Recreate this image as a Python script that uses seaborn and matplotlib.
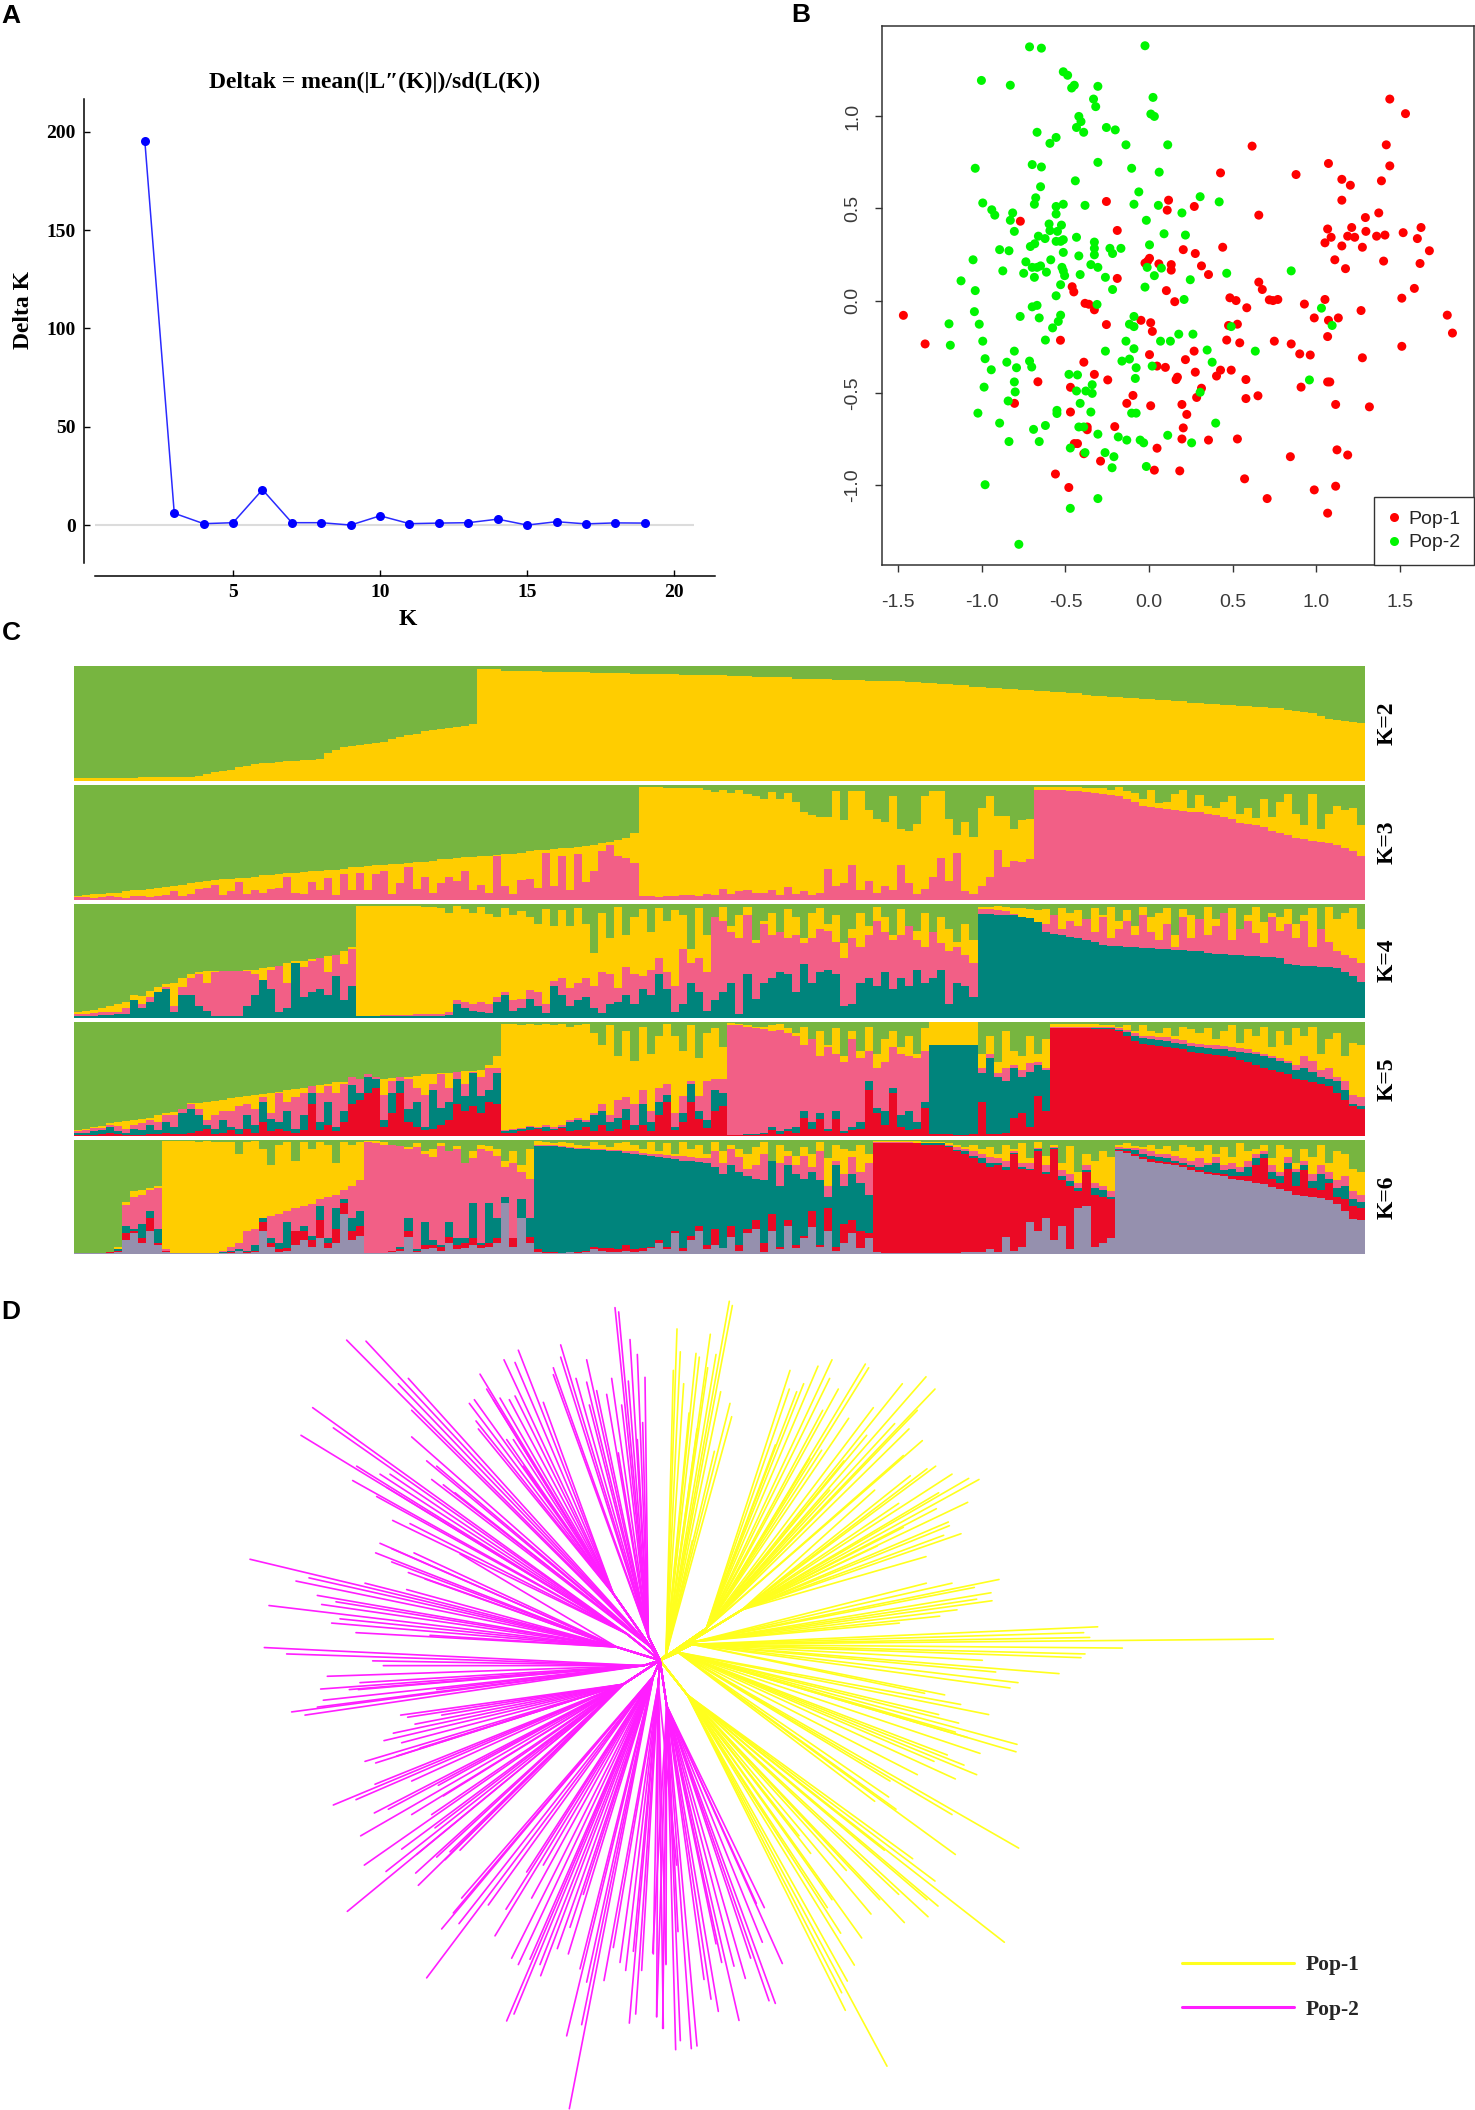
"""Population structure figure: Delta K, PCoA scatter, STRUCTURE bars, unrooted tree."""
import matplotlib
import numpy as np
import pandas as pd
import seaborn as sns
from matplotlib import pyplot as plt

matplotlib.use("Agg")

# panel A
k_values = list(range(2, 20))
delta_k = [195, 6, 0.7, 1.2, 18, 1.2, 1.2, 0, 4.7, 0.7, 1, 1.2, 3, 0, 1.7, 0.6, 1.1, 1]

# panel B
pop1_x = [-1.47, -1.34, -0.77, -0.255, -0.19, -0.19, -0.46, -0.45, -0.383, -0.36, -0.327, -0.255, -0.53, -0.39, -0.327,
          -0.247, -0.665, -0.47, -0.805, -0.096, -0.133, -0.47, -0.37, -0.37, -0.205, -0.447, -0.428, -0.39, -0.29,
          -0.56, -0.48, -0.048, 0.01, 0.02, 0.003, 0.048, 0.098, 0.162, 0.17, 0.218, 0.27, 0.277, 0.314, 0.285, 0.01,
          0.197, 0.226, 0.205, 0.197, 0.356, 0.048, 0.032, 0.184, 0.117, 0.109, 0.271, 0.428, 0.205, 0.277, 0.314,
          0.356, 0.441, -0.024, 0.003, -0.008, 0.059, 0.133, 0.133, 0.104, 0.154, 0.617, 0.657, 0.657, 0.678, 0.484,
          0.521, 0.585, 0.72, 0.742, 0.771, 0.93, 1.053, 0.989, 1.074, 1.133, 1.069, 1.269, 0.476, 0.529, 0.465,
          0.543, 0.75, 0.851, 0.902, 0.965, 1.277, 1.513, 0.492, 0.428, 0.404, 0.58, 0.652, 0.58, 0.91, 1.069, 1.082,
          1.117, 1.319, 0.529, 0.846, 1.125, 1.189, 0.572, 0.707, 0.989, 1.117, 1.069, 0.88, 1.074, 1.154, 1.205,
          1.154, 1.295, 1.375, 1.391, 1.441, 1.42, 1.441, 1.535, 1.069, 1.053, 1.09, 1.154, 1.189, 1.213, 1.231,
          1.298, 1.277, 1.362, 1.412, 1.521, 1.628, 1.606, 1.678, 1.622, 1.404, 1.112, 1.176, 1.588, 1.513, 1.785,
          1.816]
pop1_y = [-0.08, -0.235, 0.43, 0.537, 0.38, 0.12, 0.075, 0.047, -0.015, -0.02, -0.05, -0.13, -0.215, -0.334, -0.4,
          -0.43, -0.44, -0.47, -0.557, -0.514, -0.557, -0.604, -0.685, -0.7, -0.683, -0.775, -0.775, -0.83, -0.87,
          -0.94, -1.013, -0.107, -0.12, -0.167, -0.293, -0.355, -0.362, -0.428, -0.415, -0.32, -0.274, -0.388, -0.475,
          -0.525, -0.57, -0.563, -0.617, -0.69, -0.75, -0.756, -0.8, -0.919, -0.923, 0.544, 0.49, 0.51, 0.692, 0.276,
          0.255, 0.188, 0.141, 0.289, 0.203, 0.229, 0.214, 0.199, 0.195, 0.165, 0.054, -0.006, 0.837, 0.463, 0.1, 0.06,
          0.015, 0, -0.039, 0.004, 0, 0.006, -0.019, 0.006, -0.094, -0.107, -0.094, -0.195, -0.054, -0.135, -0.128,
          -0.214, -0.229, -0.22, -0.235, -0.289, -0.295, -0.31, -0.248, -0.377, -0.377, -0.409, -0.428, -0.516, -0.531,
          -0.469, -0.441, -0.441, -0.563, -0.576, -0.75, -0.846, -0.809, -0.837, -0.966, -1.073, -1.026, -1.006, -1.152,
          0.683, 0.743, 0.657, 0.625, 0.544, 0.45, 0.475, 0.649, 0.73, 0.844, 1.092, 1.013, 0.388, 0.313, 0.343, 0.296,
          0.349, 0.396, 0.343, 0.375, 0.289, 0.349, 0.355, 0.368, 0.396, 0.336, 0.27, 0.201, 0.214, 0.221, 0.173, 0.066,
          0.013, -0.079, -0.176]
pop2_x = [-0.715, -0.644, -0.024, -1.003, -0.83, -0.513, -0.487, -0.447, -0.463, -0.306, -0.332, -0.319, 0.024, 0.011,
          0.032, -0.42, -0.407, -0.434, -0.391, -0.255, -0.202, -0.67, -0.556, -0.593, -0.138, 0.112, -0.699, -0.644,
          -0.306, -1.04, -0.104, 0.061, -0.441, -0.649, -0.061, 0.306, 0.42, -0.09, 0.056, 0.197, -0.016, -0.995,
          -0.941, -0.923, -0.678, -0.686, -0.556, -0.513, -0.383, -0.816, -0.83, -0.806, -0.556, -0.598, -0.524,
          -0.593, -0.548, -0.662, -0.622, -0.434, 0.09, 0.218, -0.556, -0.529, -0.513, -0.684, -0.71, -0.327, -0.327,
          -0.234, -0.218, -0.168, 0.003, -0.894, -0.838, -0.513, -0.327, -0.42, -1.053, -0.737, -0.588, -0.699, -0.649,
          -0.67, -0.348, -0.306, -0.521, -0.513, -0.875, -0.75, -0.614, -0.686, -0.505, -0.412, -0.261, -0.011, 0.074,
          0.032, 0.247, 0.465, 0.851, -1.125, -0.529, -0.024, -0.218, -1.04, -0.556, 0.21, -0.699, -0.67, -0.311, 1.032,
          -1.045, -0.771, -0.529, -0.657, -0.09, -0.543, -1.197, -1.016, -0.117, -0.09, -0.577, 1.096, 0.492, 0.178,
          0.263, -0.995, -0.62, -0.138, 0.069, 0.128, -1.189, -0.806, -0.261, -0.09, 0.348, 0.636, -0.981, -0.851,
          -0.715, -0.702, -0.162, -0.117, 0.378, -0.944, -0.793, -0.077, 0.019, -0.479, -0.428, -0.082, -0.806, -0.34,
          -0.987, -0.801, -0.434, -0.378, -0.34, 0.306, 0.96, -0.843, -0.412, -0.551, -0.551, -1.024, -0.348, -0.104,
          -0.077, -0.894, -0.62, -0.42, -0.391, 0.399, -0.691, -0.306, 0.112, -0.184, -0.133, -0.053, -0.032, -0.838,
          -0.657, 0.255, -0.471, -0.383, -0.263, -0.21, -0.221, -0.016, -0.981, -0.306, -0.471, -0.779]
pop2_y = [1.375, 1.368, 1.381, 1.193, 1.167, 1.24, 1.221, 1.167, 1.152, 1.161, 1.092, 1.051, 1.101, 1.011, 0.998, 0.998,
          0.97, 0.938, 0.912, 0.938, 0.925, 0.912, 0.884, 0.852, 0.844, 0.844, 0.737, 0.724, 0.749, 0.717, 0.717, 0.696,
          0.649, 0.617, 0.589, 0.563, 0.535, 0.522, 0.516, 0.475, 0.435, 0.529, 0.492, 0.463, 0.557, 0.522, 0.51, 0.522,
          0.516, 0.475, 0.435, 0.375, 0.469, 0.415, 0.409, 0.379, 0.375, 0.349, 0.336, 0.343, 0.362, 0.355, 0.321, 0.321,
          0.33, 0.308, 0.293, 0.317, 0.283, 0.283, 0.255, 0.283, 0.302, 0.276, 0.27, 0.261, 0.248, 0.242, 0.221, 0.21,
          0.221, 0.18, 0.188, 0.18, 0.195, 0.18, 0.18, 0.161, 0.161, 0.148, 0.154, 0.126, 0.135, 0.141, 0.126, 0.18, 0.176,
          0.135, 0.113, 0.148, 0.161, 0.107, 0.086, 0.073, 0.06, 0.054, 0.026, 0.006, -0.034, -0.026, -0.021, -0.041,
          -0.06, -0.086, -0.079, -0.094, -0.086, -0.113, -0.126, -0.128, -0.128, -0.141, -0.148, -0.135, -0.141, -0.182,
          -0.182, -0.22, -0.214, -0.22, -0.22, -0.22, -0.242, -0.274, -0.274, -0.261, -0.268, -0.274, -0.315, -0.334,
          -0.328, -0.36, -0.328, -0.317, -0.334, -0.375, -0.364, -0.364, -0.355, -0.4, -0.403, -0.422, -0.441, -0.456,
          -0.469, -0.495, -0.49, -0.49, -0.503, -0.497, -0.43, -0.544, -0.557, -0.595, -0.612, -0.61, -0.604, -0.61, -0.61,
          -0.664, -0.677, -0.685, -0.685, -0.664, -0.698, -0.724, -0.73, -0.739, -0.756, -0.756, -0.771, -0.764, -0.764,
          -0.771, -0.799, -0.824, -0.824, -0.846, -0.906, -0.899, -0.998, -1.073, -1.126, -1.321]

# panel C, cumulative tops in percent, one value per 160 grouped individuals
k2_yellow = [2, 2, 2, 2, 2, 2, 2, 2, 3, 3, 3, 3, 3, 3, 3, 4, 6, 7, 8, 9, 12, 13, 14, 15, 15, 16, 17, 17, 18, 18,
             19, 24, 27, 29, 30, 31, 32, 33, 34, 36, 38, 40, 41, 43, 44, 45, 46, 47, 48, 49,
             97, 97, 97, 96, 96, 96, 96, 96, 95, 95, 95, 95, 95, 95, 94, 94, 94, 94, 94, 93,
             93, 93, 93, 93, 93, 92, 92, 92, 92, 92, 92, 91, 91, 91, 90, 90, 90, 90, 90, 89,
             89, 89, 89, 89, 88, 88, 88, 88, 87, 87, 87, 87, 87, 86, 86, 85, 85, 84, 84, 83,
             83, 82, 82, 81, 81, 80, 80, 79, 79, 78, 78, 77, 77, 76, 76, 75, 74, 74, 73, 73,
             72, 72, 71, 71, 70, 70, 69, 69, 68, 68, 67, 67, 66, 66, 65, 65, 64, 64, 63, 63,
             62, 61, 60, 59, 56, 54, 53, 52, 51, 50]

k3_pink = [2, 2, 1, 2, 3, 2, 1, 3, 3, 2, 3, 4, 7, 3, 5, 9, 10, 13, 4, 7, 15, 5, 8, 6, 9, 10, 20, 6, 5, 15,
           8, 19, 4, 22, 8, 23, 8, 22, 25, 5, 14, 28, 9, 20, 6, 14, 20, 16, 25, 8, 13, 6, 38, 12, 5, 17, 18, 10, 41, 12,
           38, 8, 40, 15, 25, 42, 48, 38, 36, 32, 3, 3, 2, 3, 3, 4, 4, 3, 5, 4, 9, 5, 7, 8, 6, 6, 8, 4, 11, 5,
           7, 4, 6, 27, 12, 14, 30, 8, 16, 6, 12, 8, 30, 14, 5, 9, 20, 36, 16, 41, 7, 5, 12, 20, 43, 28, 34, 33, 35, 96,
           96, 96, 96, 95, 95, 94, 93, 92, 91, 90, 88, 85, 82, 81, 80, 79, 78, 77, 76, 76,
           75, 74, 72, 70, 67, 66, 65, 63, 60, 58, 56, 54, 53, 51, 50, 49, 48, 45, 42, 38]
k3_yellow = [3, 4, 5, 5, 6, 6, 7, 8, 8, 9, 10, 11, 12, 13, 14, 15, 16, 17, 18, 18, 19, 19, 20, 21, 21, 22, 23, 23, 24, 25,
             25, 26, 26, 27, 28, 28, 29, 30, 30, 31, 31, 32, 33, 33, 34, 35, 35, 36, 37, 37, 38, 38, 39, 40, 40, 41, 42, 43, 43, 44,
             45, 45, 46, 47, 48, 49, 50, 52, 54, 58, 98, 98, 98, 97, 97, 97, 97, 97, 96, 94, 96, 93, 96, 92, 90, 88, 94, 88, 93, 85,
             76, 74, 72, 72, 95, 69, 95, 95, 78, 70, 68, 90, 62, 60, 66, 90, 95, 95, 70, 56, 68, 55, 80, 90, 73, 73, 62, 69, 70, 98,
             98, 98, 98, 98, 98, 97, 97, 97, 96, 98, 95, 93, 88, 96, 84, 85, 92, 96, 80, 91,
             82, 80, 85, 90, 75, 80, 71, 88, 72, 85, 92, 75, 65, 92, 62, 75, 82, 78, 80, 65]

k4_teal = [1, 1, 1, 2, 2, 3, 3, 15, 8, 14, 22, 25, 5, 20, 20, 10, 6, 1, 1, 1, 1, 10, 20, 33, 25, 5, 8, 48, 18, 22,
           25, 20, 36, 15, 28, 1, 1, 1, 1, 1, 1, 1, 1, 1, 1, 1, 2, 12, 8, 6, 5, 4, 14, 20, 6, 8, 16, 10, 4, 28,
           20, 10, 15, 18, 8, 4, 12, 14, 20, 12, 25, 20, 38, 25, 5, 12, 30, 22, 6, 15, 22, 30, 3, 38, 16, 30, 35, 40, 38, 22,
           47, 30, 40, 42, 38, 10, 12, 30, 35, 28, 40, 25, 35, 28, 42, 30, 35, 42, 12, 30, 28, 18, 91, 91, 90, 90, 90, 88, 87, 84,
           75, 73, 72, 71, 70, 68, 66, 64, 63, 63, 62, 62, 61, 61, 60, 60, 59, 59, 58, 58,
           57, 56, 56, 55, 55, 54, 54, 53, 53, 52, 47, 46, 45, 45, 44, 44, 43, 40, 36, 31]
k4_pink = [3, 3, 4, 5, 5, 5, 8, 14, 12, 18, 22, 27, 10, 27, 35, 38, 30, 40, 41, 41, 41, 41, 38, 33, 42, 45, 30, 48, 44, 50,
           52, 40, 55, 47, 60, 1, 1, 1, 2, 2, 2, 2, 3, 3, 3, 3, 5, 15, 14, 12, 14, 12, 18, 22, 15, 16, 24, 22, 12, 32,
           35, 26, 30, 35, 28, 40, 38, 26, 44, 38, 36, 42, 52, 40, 28, 60, 48, 52, 40, 88, 85, 75, 70, 90, 65, 82, 72, 75, 70, 72,
           65, 70, 78, 76, 66, 52, 70, 62, 72, 85, 75, 68, 72, 80, 68, 62, 75, 65, 58, 62, 55, 48, 95, 95, 94, 93, 91, 88, 86, 84,
           82, 90, 78, 85, 80, 86, 75, 88, 70, 78, 85, 72, 90, 75, 68, 82, 62, 88, 70, 86,
           72, 80, 92, 68, 78, 85, 74, 65, 88, 76, 82, 70, 85, 62, 78, 66, 58, 55, 52, 48]
k4_yellow = [5, 6, 7, 8, 10, 12, 14, 20, 19, 23, 27, 29, 30, 35, 38, 40, 41, 41, 41, 41, 41, 42, 42, 43, 44, 45, 48, 50, 50, 51,
             52, 54, 55, 58, 62, 98, 98, 98, 98, 98, 98, 98, 98, 97, 97, 96, 92, 98, 95, 92, 97, 91, 88, 96, 90, 93, 88, 82, 95, 80,
             94, 80, 96, 82, 57, 92, 70, 97, 72, 88, 95, 75, 96, 85, 94, 90, 60, 96, 72, 88, 97, 80, 90, 97, 68, 85, 92, 75, 95, 88,
             70, 92, 96, 82, 90, 65, 78, 92, 80, 97, 88, 72, 95, 80, 76, 92, 70, 88, 78, 66, 82, 68, 97, 97, 98, 97, 96, 96, 95, 94,
             95, 88, 96, 92, 94, 86, 96, 90, 97, 85, 94, 80, 97, 88, 92, 96, 72, 95, 90, 82,
             97, 86, 92, 96, 78, 90, 97, 84, 92, 88, 95, 82, 90, 96, 72, 97, 86, 92, 96, 78]

k5_red = [1, 1, 1, 2, 3, 2, 1, 1, 1, 2, 2, 3, 2, 2, 3, 4, 6, 2, 3, 5, 2, 6, 3, 12, 4, 6, 4, 3, 5,
          28, 5, 10, 4, 12, 28, 32, 38, 42, 8, 20, 38, 12, 8, 5, 6, 10, 14, 28, 22, 26, 20, 30, 28, 3, 3, 4, 5, 6, 4,
          5, 7, 4, 5, 8, 4, 10, 4, 6, 14, 5, 10, 4, 18, 30, 5, 12, 30, 15, 7, 22, 26, 1, 1, 1, 1, 2, 5, 2, 4,
          3, 16, 6, 15, 4, 15, 3, 5, 6, 40, 20, 10, 38, 8, 5, 6, 25, 2, 2, 2, 1, 1, 2, 30, 2, 2, 3, 16, 20, 8,
          35, 22, 95, 95, 95, 95, 95, 94, 94, 94, 92, 88, 83, 81, 80, 79, 78, 77, 76, 74,
          73, 72, 71, 70, 69, 67, 65, 62, 60, 58, 56, 54, 50, 49, 47, 46, 44, 38, 32, 26, 24]
k5_teal = [3, 3, 4, 5, 8, 4, 3, 6, 5, 10, 5, 12, 8, 20, 24, 18, 10, 6, 14, 8, 6, 18, 10, 30, 15, 12, 22, 6, 18,
           38, 12, 30, 8, 22, 45, 38, 52, 50, 14, 38, 48, 24, 30, 8, 40, 25, 30, 50, 35, 55, 35, 40, 55, 4, 5, 6, 8, 7, 8,
           6, 8, 12, 14, 12, 18, 22, 12, 16, 24, 10, 28, 12, 30, 36, 8, 20, 46, 22, 14, 40, 38, 1, 1, 2, 2, 3, 8, 4, 6,
           8, 22, 12, 20, 6, 22, 4, 8, 12, 48, 25, 22, 42, 18, 22, 12, 30, 80, 80, 80, 80, 80, 80, 55, 68, 52, 48, 60, 52, 56,
           62, 58, 95, 95, 95, 95, 95, 95, 95, 95, 93, 91, 88, 86, 85, 84, 83, 82, 81, 79,
           78, 77, 76, 76, 75, 74, 73, 72, 70, 68, 66, 64, 58, 60, 56, 52, 50, 48, 40, 28, 26]
k5_pink = [4, 5, 7, 7, 10, 9, 6, 10, 11, 14, 12, 18, 18, 24, 28, 24, 14, 18, 22, 22, 26, 28, 24, 34, 20, 38, 30, 34, 38,
           44, 38, 44, 38, 46, 52, 50, 54, 52, 36, 48, 52, 50, 42, 36, 46, 54, 42, 56, 46, 56, 52, 60, 60, 5, 6, 7, 9, 8, 10,
           8, 10, 14, 16, 14, 20, 28, 18, 32, 34, 28, 40, 22, 42, 46, 20, 35, 48, 35, 48, 50, 50, 97, 97, 96, 95, 94, 92, 93, 90,
           88, 80, 85, 70, 78, 72, 65, 85, 68, 75, 60, 65, 78, 72, 70, 68, 75, 80, 80, 80, 80, 80, 80, 60, 72, 55, 60, 62, 58, 64,
           65, 60, 96, 96, 96, 96, 96, 96, 96, 96, 95, 93, 90, 88, 88, 87, 87, 85, 84, 82,
           81, 80, 80, 79, 78, 77, 76, 74, 72, 70, 68, 66, 62, 70, 66, 58, 60, 52, 48, 36, 34]
k5_yellow = [5, 6, 8, 9, 11, 12, 13, 14, 15, 16, 18, 20, 21, 24, 29, 29, 30, 31, 32, 33, 34, 35, 36, 37, 38, 39, 40, 41, 42,
             44, 45, 46, 47, 47, 48, 48, 49, 50, 50, 51, 52, 52, 53, 54, 54, 55, 55, 56, 57, 57, 58, 62, 70, 98, 98, 97, 98, 97, 98,
             97, 98, 96, 97, 98, 90, 80, 97, 70, 92, 66, 96, 72, 88, 98, 88, 75, 97, 68, 90, 95, 78, 99, 98, 97, 96, 96, 97, 98, 95,
             90, 96, 85, 92, 80, 95, 70, 92, 75, 96, 72, 85, 92, 78, 88, 72, 95, 100, 100, 100, 100, 100, 100, 72, 88, 65, 92, 75, 70, 88,
             72, 85, 98, 98, 98, 98, 98, 98, 97, 97, 96, 97, 92, 97, 92, 90, 95, 88, 96, 94,
             90, 95, 85, 92, 97, 82, 94, 88, 96, 78, 92, 80, 95, 88, 96, 72, 85, 90, 70, 82, 80]

k6_gray = [1, 1, 1, 1, 1, 2, 12, 18, 10, 20, 8, 2, 1, 1, 1, 1, 1, 1, 1, 1, 3, 1, 2, 20, 6, 2, 3, 8, 12,
           6, 14, 5, 10, 35, 12, 16, 1, 1, 1, 2, 3, 15, 2, 4, 5, 3, 10, 4, 5, 8, 5, 6, 10, 45, 6, 32, 10, 2, 1,
           1, 1, 2, 1, 2, 4, 3, 2, 2, 3, 2, 3, 5, 10, 4, 18, 3, 12, 20, 4, 8, 5, 15, 3, 18, 22, 2, 20, 4, 25,
           5, 14, 24, 6, 20, 3, 10, 18, 5, 14, 2, 1, 1, 1, 1, 1, 1, 1, 1, 1, 1, 2, 2, 2, 4, 2, 15, 3, 6, 28,
           20, 32, 12, 25, 4, 40, 42, 6, 10, 14, 90, 89, 86, 83, 81, 80, 79, 78, 76, 74,
           72, 70, 69, 68, 66, 65, 64, 62, 61, 59, 57, 55, 52, 51, 50, 49, 47, 44, 38, 31, 30]
k6_red = [1, 1, 1, 1, 2, 3, 18, 20, 14, 32, 10, 3, 1, 1, 1, 1, 1, 1, 1, 2, 3, 2, 3, 28, 10, 4, 5, 20, 20,
          12, 30, 10, 22, 45, 20, 25, 1, 1, 1, 3, 4, 20, 3, 8, 8, 6, 15, 8, 10, 14, 8, 10, 14, 45, 14, 32, 15, 4, 2,
          2, 1, 2, 2, 3, 6, 5, 5, 4, 8, 4, 5, 6, 12, 6, 20, 5, 16, 25, 8, 22, 5, 25, 8, 22, 30, 10, 35, 6, 30,
          8, 16, 38, 8, 40, 6, 26, 30, 20, 18, 97, 97, 97, 97, 97, 97, 96, 96, 96, 94, 90, 88, 84, 80, 76, 78, 74, 88, 75, 74,
          90, 70, 92, 65, 60, 55, 72, 52, 50, 48, 91, 90, 88, 85, 83, 82, 81, 80, 78, 76,
          74, 72, 71, 70, 68, 68, 68, 78, 84, 66, 62, 75, 60, 74, 58, 56, 62, 50, 48, 42, 40]
k6_teal = [1, 1, 1, 1, 2, 4, 25, 22, 26, 38, 22, 3, 1, 1, 1, 1, 1, 1, 2, 3, 4, 3, 8, 32, 14, 10, 28, 14, 25,
           16, 42, 14, 40, 48, 32, 38, 1, 1, 1, 3, 6, 32, 4, 28, 12, 8, 28, 14, 14, 45, 10, 45, 32, 50, 14, 48, 32, 95, 95,
           95, 94, 93, 92, 92, 91, 91, 90, 90, 89, 88, 87, 86, 85, 84, 83, 82, 82, 81, 80, 76, 70, 78, 72, 68, 66, 65, 82, 60, 78,
           70, 66, 72, 65, 50, 78, 60, 70, 62, 52, 97, 97, 97, 97, 97, 97, 97, 97, 97, 95, 91, 90, 86, 84, 80, 80, 76, 89, 76, 75,
           92, 72, 93, 68, 64, 58, 74, 58, 56, 50, 92, 92, 91, 88, 86, 85, 84, 82, 80, 78,
           76, 78, 80, 74, 75, 72, 76, 84, 88, 72, 68, 80, 72, 78, 64, 70, 66, 58, 60, 48, 46]
k6_pink = [1, 1, 1, 1, 2, 4, 43, 50, 52, 56, 58, 4, 1, 1, 1, 1, 1, 1, 3, 6, 10, 20, 22, 26, 33, 35, 38, 40, 42,
           44, 48, 50, 52, 56, 60, 65, 98, 97, 96, 96, 95, 92, 94, 88, 85, 95, 90, 92, 80, 84, 92, 90, 86, 76, 80, 72, 66, 96, 96,
           96, 95, 94, 93, 93, 92, 92, 91, 91, 90, 90, 89, 88, 88, 87, 86, 86, 85, 84, 84, 90, 80, 92, 85, 75, 78, 88, 72, 80, 86,
           78, 86, 76, 90, 60, 82, 70, 85, 72, 80, 98, 98, 98, 98, 98, 97, 97, 97, 97, 96, 94, 92, 90, 88, 85, 84, 82, 90, 80, 80,
           93, 78, 94, 74, 70, 62, 78, 62, 60, 55, 94, 93, 93, 92, 90, 88, 88, 86, 84, 82,
           84, 80, 85, 78, 80, 76, 82, 88, 90, 78, 72, 85, 75, 82, 70, 78, 72, 65, 68, 55, 52]
k6_yellow = [1, 1, 1, 1, 2, 6, 46, 55, 56, 58, 60, 99, 99, 99, 99, 98, 99, 98, 98, 98, 88, 98, 99, 92, 78, 96, 98, 82, 98,
             92, 98, 96, 80, 98, 96, 98, 99, 99, 98, 96, 92, 94, 97, 90, 92, 97, 85, 95, 75, 90, 96, 95, 92, 82, 90, 78, 92, 99, 98,
             97, 98, 97, 96, 95, 98, 96, 94, 97, 98, 96, 92, 98, 90, 97, 88, 98, 92, 96, 88, 98, 90, 96, 92, 88, 94, 98, 80, 96, 90,
             86, 94, 88, 98, 84, 96, 92, 90, 96, 88, 99, 99, 99, 99, 99, 99, 98, 98, 98, 97, 96, 94, 96, 92, 94, 88, 96, 92, 97, 84,
             98, 86, 96, 80, 95, 72, 88, 82, 90, 85, 96, 97, 95, 94, 96, 92, 95, 90, 96, 94,
             90, 96, 88, 94, 85, 97, 90, 92, 96, 84, 96, 92, 80, 92, 85, 96, 80, 90, 88, 75, 72]

# panel D, branch tips in tree units, one list pair per fan of the tree
p1_top_x = [1498, 1507, 1341, 1351, 1330, 1398, 1408, 1441, 1433, 1458, 1361, 1472, 1377, 1500, 1505, 1453, 1401, 1387]
p1_top_y = [40, 48, 92, 135, 170, 138, 145, 102, 165, 140, 195, 210, 250, 232, 257, 322, 280, 490]
p1_upper_x = [1680, 1678, 1721, 1764, 1806, 1799, 1825, 1700, 1636, 1778, 1775, 1856, 1906, 1916, 2017, 2088, 2115,
              1930, 1994, 2062, 2037, 1910, 1842, 2077, 2020, 1799, 1739]
p1_upper_y = [170, 205, 195, 162, 150, 185, 205, 210, 310, 245, 320, 260, 158, 165, 195, 182, 205, 240, 270, 245,
              280, 292, 340, 302, 330, 395, 335]
p1_third_x = [2117, 2091, 2166, 2216, 2247, 2041, 2126, 2213, 2119, 2155, 2158, 2141, 2193, 2006, 1934, 2088, 2020, 1942]
p1_third_y = [350, 355, 365, 373, 375, 368, 400, 418, 430, 455, 462, 480, 477, 420, 395, 520, 465, 500]
p1_right_x = [2307, 2089, 2166, 2233, 2283, 2240, 2286, 2181, 2129, 2008]
p1_right_y = [563, 570, 570, 578, 588, 600, 603, 620, 632, 645]
p1_long_x = [3130, 2603, 2561, 2579, 2677, 2565, 2553, 2257, 2487, 2297, 2364, 2340, 2144, 2084]
p1_long_y = [675, 652, 663, 672, 692, 703, 710, 715, 740, 737, 757, 767, 780, 777]
p1_lower_x = [2192, 2276, 2126, 2186, 2361, 2358, 2250, 2176, 2212, 2152, 2112, 2202, 2240, 2176, 2062, 1980, 1976,
              1934, 1998, 2166, 2366, 2176]
p1_lower_y = [798, 817, 817, 833, 873, 887, 890, 850, 860, 893, 905, 912, 930, 938, 930, 942, 972, 980, 995, 1005,
              1068, 1080]
p1_bottom_x = [2048, 1963, 2115, 2124, 2091, 2094, 2023, 2006, 1949, 1923, 1849, 1742, 1895, 1873, 1852, 1832, 1806,
               1792, 1846, 1835, 2323, 1971, 1707]
p1_bottom_y = [1088, 1072, 1130, 1177, 1165, 1197, 1208, 1155, 1165, 1192, 1110, 1078, 1237, 1288, 1318, 1228, 1165,
               1180, 1373, 1340, 1245, 1478, 1045]

p2_ul_x = [350, 408, 535, 505, 545, 545, 590, 605, 620, 675, 640]
p2_ul_y = [113, 115, 185, 195, 245, 295, 340, 375, 350, 400, 385]
p2_lu_x = [248, 213, 310, 380, 368, 450, 480, 440, 488, 540, 470]
p2_lu_y = [240, 292, 278, 350, 377, 365, 365, 407, 452, 458, 390]
p2_fan_x = [750, 770, 718, 733, 738, 745, 790, 810, 838, 855, 822, 855, 865, 940, 830, 850, 880]
p2_fan_y = [177, 205, 232, 225, 265, 280, 225, 222, 225, 218, 150, 155, 132, 230, 300, 300, 350]
p2_top_x = [992, 970, 970, 992, 1038, 1070, 1070, 1100, 1078, 1130, 1145, 1155, 1166, 1200, 1222, 1245, 1238, 1195,
            1175, 1165, 1222]
p2_top_y = [122, 165, 178, 145, 185, 150, 192, 208, 235, 215, 185, 52, 60, 112, 140, 183, 268, 190, 235, 325, 300]
p2_lm_x = [60, 198, 237, 405, 450, 437, 485, 552, 485, 535, 585, 690, 530, 262, 275, 318, 117, 330, 305, 378, 600]
p2_lm_y = [525, 566, 560, 570, 495, 513, 505, 513, 530, 550, 562, 515, 582, 593, 610, 605, 612, 637, 645, 663, 668]
p2_left_x = [103, 170, 428, 460, 292, 272, 358, 390, 385, 280, 185, 225, 262, 620]
p2_left_y = [691, 703, 716, 725, 745, 769, 770, 757, 770, 790, 812, 818, 803, 770]
p2_ll_x = [512, 533, 635, 555, 490, 462, 515, 500, 405, 437, 570, 310, 378, 435, 545, 625, 640, 433, 475, 545, 392,
           605, 615, 403, 515, 468, 560, 557, 620, 565, 645, 690, 352, 660]
p2_ll_y = [818, 822, 818, 835, 852, 866, 870, 895, 905, 908, 880, 987, 977, 948, 942, 950, 970, 1002, 995, 1005, 1045,
           1005, 1030, 1100, 1070, 1112, 1080, 1115, 1085, 1138, 1090, 1072, 1187, 1075]
p2_bl_x = [695, 670, 775, 687, 635, 590, 890, 905, 940, 828, 795, 845, 865, 900, 930, 932, 982, 1015, 1020, 1050, 1070,
           1060, 830, 852, 1010, 1055, 1018]
p2_bl_y = [1162, 1190, 1175, 1210, 1220, 1312, 1113, 1162, 1100, 1183, 1233, 1275, 1287, 1277, 1287, 1308, 1257, 1267,
           1217, 1295, 1320, 1155, 1393, 1380, 1421, 1400, 1558]
p2_bot_x = [1122, 1150, 1170, 1187, 1210, 1235, 1198, 1217, 1270, 1280, 1300, 1308, 1340]
p2_bot_y = [1317, 1255, 1283, 1298, 1262, 1298, 1397, 1380, 1267, 1385, 1407, 1285, 1100]
p2_br_x = [1603, 1579, 1657, 1617, 1636, 1597, 1562, 1527, 1546, 1512, 1465, 1443, 1422, 1475, 1458, 1401, 1384, 1351,
           1337, 1298, 1280, 1308, 1268, 1344]
p2_br_y = [1180, 1172, 1285, 1355, 1360, 1245, 1275, 1392, 1313, 1290, 1375, 1352, 1315, 1283, 1248, 1440, 1445, 1430,
           1447, 1407, 1385, 1287, 1265, 1225]

# (population, tips x, tips y, node x, node y)
fans = [
    ("Pop-1", p1_top_x, p1_top_y, 1308, 705),
    ("Pop-1", p1_upper_x, p1_upper_y, 1429, 655),
    ("Pop-1", p1_third_x, p1_third_y, 1536, 620),
    ("Pop-1", p1_right_x, p1_right_y, 1394, 680),
    ("Pop-1", p1_long_x, p1_long_y, 1387, 685),
    ("Pop-1", p1_lower_x, p1_lower_y, 1344, 700),
    ("Pop-1", p1_bottom_x, p1_bottom_y, 1372, 780),
    ("Pop-2", p2_ul_x, p2_ul_y, 1262, 690),
    ("Pop-2", p2_lu_x, p2_lu_y, 1190, 665),
    ("Pop-2", p2_fan_x, p2_fan_y, 1150, 590),
    ("Pop-2", p2_top_x, p2_top_y, 1255, 670),
    ("Pop-2", p2_lm_x, p2_lm_y, 1160, 690),
    ("Pop-2", p2_left_x, p2_left_y, 1240, 725),
    ("Pop-2", p2_ll_x, p2_ll_y, 1180, 760),
    ("Pop-2", p2_bl_x, p2_bl_y, 1270, 745),
    ("Pop-2", p2_bot_x, p2_bot_y, 1285, 760),
    ("Pop-2", p2_br_x, p2_br_y, 1310, 800),
]
tree_center = (1290, 715)

GREEN = "#77B540"
YELLOW = "#FFCD00"
PINK = "#F25F86"
TEAL = "#00847C"
RED = "#EB0A25"
GRAY = "#9590AE"

W, H = 1475, 2110
SERIF = "Liberation Serif"
SANS = "Liberation Sans"

sns.set_theme(style="white")
plt.rcParams["font.family"] = [SANS, "DejaVu Sans"]
plt.rcParams["axes.unicode_minus"] = False

fig = plt.figure(figsize=(W / 100, H / 100), dpi=100)


def px_axes(left, top, right, bottom):
    return fig.add_axes([left / W, 1 - bottom / H, (right - left) / W, (bottom - top) / H])


for letter, x, y in [("A", 11, 16), ("B", 801, 15), ("C", 11, 633), ("D", 11, 1312)]:
    fig.text(x / W, 1 - y / H, letter, family=SANS, weight="bold", size=19, ha="center", va="center", color="black")

# A: delta K
ax = px_axes(84, 99, 715, 576)
ax.hlines(0, 0.31, 20.68, color="#dcdcdc", lw=1.5)
sns.lineplot(x=k_values, y=delta_k, ax=ax, color="#2A2AFF", lw=1.1, marker="o", markersize=6.5,
             markerfacecolor="#0000FF", markeredgewidth=0)
ax.set_xlim(-0.07, 21.39)
ax.set_ylim(-25.9, 216.6)
ax.set_xticks([5, 10, 15, 20])
ax.set_yticks([0, 50, 100, 150, 200])
sns.despine(ax=ax)
ax.spines["left"].set_bounds(-19.3, 216.6)
ax.spines["bottom"].set_bounds(0.31, 21.39)
for side in ("left", "bottom"):
    ax.spines[side].set_color("black")
    ax.spines[side].set_linewidth(1.1)
ax.tick_params(direction="in", length=4, width=1, color="black", left=True, bottom=True, pad=6)
for lab in ax.get_xticklabels() + ax.get_yticklabels():
    lab.set(family=SERIF, weight="bold", size=14, color="black")
ax.set_title("Deltak = mean(|L\u2033(K)|)/sd(L(K))", family=SERIF, weight="bold", size=17, x=0.461, y=1.017,
             va="center", color="black")
ax.set_ylabel("Delta K", family=SERIF, weight="bold", size=17, color="black")
ax.yaxis.set_label_coords(-0.079, 0.558)
ax.set_xlabel("K", family=SERIF, weight="bold", size=17, color="black")
ax.xaxis.set_label_coords(0.513, -0.07)

# B: PCoA
ax = px_axes(882, 26, 1474, 565)
pcoa = pd.DataFrame({
    "x": pop1_x + pop2_x,
    "y": pop1_y + pop2_y,
    "group": ["Pop-1"] * len(pop1_x) + ["Pop-2"] * len(pop2_x),
})
sns.scatterplot(data=pcoa, x="x", y="y", hue="group", palette={"Pop-1": "#FF0000", "Pop-2": "#00F500"}, s=42,
                linewidth=0, ax=ax)
ax.set_xlim(-1.598, 1.945)
ax.set_ylim(-1.433, 1.488)
ax.set_xticks([-1.5, -1.0, -0.5, 0.0, 0.5, 1.0, 1.5])
ax.set_yticks([-1.0, -0.5, 0.0, 0.5, 1.0])
ax.set_xlabel("")
ax.set_ylabel("")
for spine in ax.spines.values():
    spine.set_color("#333333")
    spine.set_linewidth(1.1)
ax.tick_params(direction="out", length=5, width=1, color="#333333", labelcolor="#3a3a3a", labelsize=14,
               left=True, bottom=True)
ax.tick_params(axis="x", pad=16)
ax.tick_params(axis="y", pad=10)
for lab in ax.get_yticklabels():
    lab.set(rotation=90, va="center")
sns.move_legend(ax, "lower right", title=None, bbox_to_anchor=(1.0, 0.0), borderaxespad=0, fancybox=False,
                framealpha=1, edgecolor="#333333", fontsize=14, labelspacing=0.3, handletextpad=0.45,
                handlelength=0.6, borderpad=0.7, markerscale=1)

# C: STRUCTURE bars
rows = [
    ("K=2", 666, 780.5, [k2_yellow], [YELLOW]),
    ("K=3", 785, 899.5, [k3_yellow, k3_pink], [YELLOW, PINK]),
    ("K=4", 903.5, 1017.5, [k4_yellow, k4_pink, k4_teal], [YELLOW, PINK, TEAL]),
    ("K=5", 1022, 1136, [k5_yellow, k5_pink, k5_teal, k5_red], [YELLOW, PINK, TEAL, RED]),
    ("K=6", 1140, 1254, [k6_yellow, k6_pink, k6_teal, k6_red, k6_gray], [YELLOW, PINK, TEAL, RED, GRAY]),
]
for label, top, bottom, tops, colors in rows:
    ax = px_axes(73.5, top, 1365, bottom)
    idx = np.arange(160)
    sns.barplot(x=idx, y=[100] * 160, color=GREEN, width=1, saturation=1, linewidth=0, native_scale=True,
                errorbar=None, ax=ax)
    for values, color in zip(tops, colors):
        assert len(values) == 160, label
        sns.barplot(x=idx, y=values, color=color, width=1, saturation=1, linewidth=0, native_scale=True,
                    errorbar=None, ax=ax)
    for patch in ax.patches:
        patch.set_antialiased(False)
    ax.set_xlim(-0.5, 159.5)
    ax.set_ylim(0, 100)
    ax.axis("off")
    ax.text(1.0175, 0.5, label, transform=ax.transAxes, family=SERIF, weight="bold", size=17, rotation=90,
            ha="center", va="center", color="black")

# D: unrooted tree
branch_rows = []
branch = 0
for pop, tips_x, tips_y, node_x, node_y in fans:
    for tx, ty in zip(tips_x, tips_y):
        branch_rows.append((pop, branch, 0, tree_center[0], tree_center[1]))
        branch_rows.append((pop, branch, 1, node_x, node_y))
        branch_rows.append((pop, branch, 2, tx, ty))
        branch += 1
tree = pd.DataFrame(branch_rows, columns=["pop", "branch", "step", "x", "y"])

ax = px_axes(0, 1290, W, H)
sns.lineplot(data=tree, x="x", y="y", hue="pop", units="branch", estimator=None, sort=False,
             palette={"Pop-1": "#FFFF1E", "Pop-2": "#FF1EFF"}, lw=1.2, ax=ax)
ax.set_xlim(-690, 3735)
ax.set_ylim(1560.4, 18.8)
handles, labels = ax.get_legend_handles_labels()
for handle in handles:
    handle.set_linewidth(2.2)
ax.legend(handles, labels, loc="upper left", bbox_to_anchor=(1182 / W, 1 - 1955 / H), bbox_transform=fig.transFigure,
          frameon=False, borderpad=0, borderaxespad=0, handlelength=5.2, handletextpad=0.55, labelspacing=1.15,
          prop={"family": SERIF, "weight": "bold", "size": 15.5})
ax.axis("off")

fig.savefig("out.png", dpi=100)
